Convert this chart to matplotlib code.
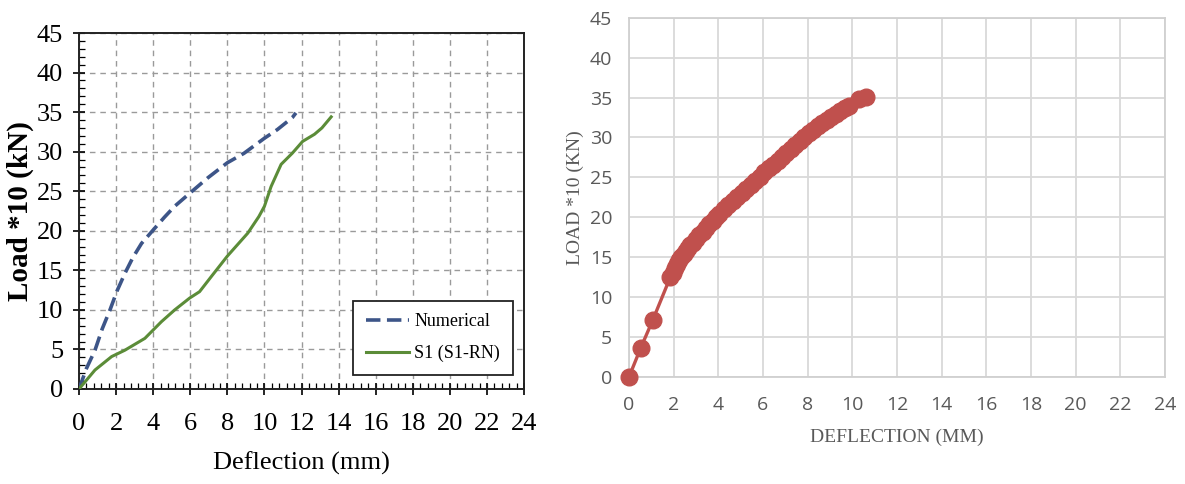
import matplotlib
matplotlib.use("Agg")
import matplotlib.pyplot as plt
from matplotlib.ticker import MultipleLocator

# ---- data (left panel) ----
num_x = [0, 0.4, 0.86, 1.25, 1.67, 2.05, 2.47, 2.9, 3.37, 4.0, 4.6, 5.16, 6.0, 6.95, 8.0, 8.9, 10.0, 10.7, 11.5, 11.7]
num_y = [0, 2.6, 4.9, 7.6, 10.0, 12.4, 14.6, 16.6, 18.4, 20.1, 21.7, 23.1, 24.8, 26.7, 28.6, 29.8, 31.7, 32.8, 34.3, 34.9]
s1_x = [0, 0.86, 1.76, 2.47, 3.55, 4.44, 5.16, 5.97, 6.5, 7.13, 8.0, 9.1, 9.7, 10.0, 10.36, 10.9, 11.5, 12.06, 12.7, 13.1, 13.6]
s1_y = [0, 2.4, 4.1, 4.9, 6.4, 8.5, 10.0, 11.5, 12.3, 14.2, 16.8, 19.7, 21.8, 23.1, 25.6, 28.4, 29.8, 31.3, 32.2, 33.0, 34.4]

# ---- data (right panel) ----
fe_x = [0, 0.52, 1.06, 1.85, 1.95, 2.05, 2.15, 2.25, 2.35, 2.45, 2.55, 2.65, 2.75, 2.85, 3.0, 3.15, 3.3,
        3.45, 3.6, 3.75, 3.9, 4.05, 4.25, 4.45, 4.65, 4.85, 5.05, 5.25, 5.45, 5.65, 5.85, 6.05, 6.25,
        6.45, 6.65, 6.85, 7.05, 7.25, 7.45, 7.65, 7.85, 8.05, 8.25, 8.45, 8.65, 8.85, 9.05, 9.25, 9.45,
        9.65, 9.85, 10.3, 10.6]
fe_y = [0, 3.6, 7.1, 12.5, 13.0, 13.6, 14.1, 14.6, 15.0, 15.4, 15.8, 16.2, 16.5, 16.8, 17.3, 17.8, 18.2,
        18.7, 19.1, 19.6, 20.0, 20.4, 21.0, 21.5, 22.0, 22.5, 23.0, 23.6, 24.1, 24.6, 25.1, 25.7, 26.2,
        26.6, 27.1, 27.6, 28.1, 28.6, 29.1, 29.5, 30.0, 30.5, 30.9, 31.4, 31.8, 32.2, 32.6, 33.0, 33.3,
        33.7, 34.0, 34.8, 35.1]

fig = plt.figure(figsize=(11.85, 4.84), dpi=100)

# ================= Left panel =================
serif = "Liberation Serif"
axL = fig.add_axes([0.0667, 0.1963, 0.3755, 0.7355])
axL.set_xlim(0, 24)
axL.set_ylim(0, 45)
axL.xaxis.set_major_locator(MultipleLocator(2))
axL.yaxis.set_major_locator(MultipleLocator(5))
axL.xaxis.set_minor_locator(MultipleLocator(0.4))
axL.yaxis.set_minor_locator(MultipleLocator(1))
axL.grid(True, which="major", color="#9a9a9a", linestyle=(0, (4, 3.5)), linewidth=1.0)
axL.tick_params(which="major", direction="inout", length=9, width=1.2, labelsize=19)
axL.tick_params(axis="x", which="major", pad=13)
axL.tick_params(axis="y", which="major", pad=7)
axL.tick_params(which="minor", direction="in", length=4, width=0.9)
axL.tick_params(top=False, right=False)
for lab in axL.get_xticklabels() + axL.get_yticklabels():
    lab.set_fontfamily(serif)
for sp in axL.spines.values():
    sp.set_linewidth(1.4)
    sp.set_color("#222222")

axL.plot(num_x, num_y, color="#3d5588", linestyle=(0, (4, 1.8)), linewidth=2.6, label="Numerical", zorder=3)
axL.plot(s1_x, s1_y, color="#5b8c38", linewidth=2.2, label="S1 (S1-RN)", zorder=3)

axL.set_xlabel("Deflection (mm)", fontfamily=serif, fontsize=19, labelpad=12)
axL.set_ylabel("Load *10 (kN)", fontfamily=serif, fontsize=21, fontweight="bold", labelpad=2)

leg = axL.legend(loc="lower right", bbox_to_anchor=(0.995, 0.015), prop={"family": serif, "size": 13},
                 frameon=True, fancybox=False, edgecolor="#222222", framealpha=1,
                 handlelength=2.4, handletextpad=0.3, borderpad=0.7, labelspacing=0.8)
leg.get_frame().set_linewidth(1.3)

# ================= Right panel =================
axR = fig.add_axes([0.5308, 0.2211, 0.4523, 0.7423])
axR.set_xlim(0, 24)
axR.set_ylim(0, 45)
axR.xaxis.set_major_locator(MultipleLocator(2))
axR.yaxis.set_major_locator(MultipleLocator(5))
axR.grid(True, color="#d9d9d9", linewidth=1.3)
axR.set_axisbelow(True)
for sp in axR.spines.values():
    sp.set_color("#d0d0d0")
    sp.set_linewidth(1.3)
axR.tick_params(length=0, labelsize=14, labelcolor="#595959")
axR.tick_params(axis="x", pad=14)
axR.tick_params(axis="y", pad=12)
for lab in axR.get_xticklabels() + axR.get_yticklabels():
    lab.set_fontfamily("Open Sans")

axR.plot(fe_x, fe_y, color="#c0504d", linewidth=2.4, marker="o", markersize=12,
         markerfacecolor="#c0504d", markeredgecolor="#c0504d", clip_on=False, zorder=3)

axR.set_xlabel("DEFLECTION (MM)", fontfamily=serif, fontsize=14, color="#595959", labelpad=10)
axR.set_ylabel("LOAD *10 (KN)", fontfamily=serif, fontsize=14, color="#595959", labelpad=4)

fig.savefig("out.png", dpi=100)
